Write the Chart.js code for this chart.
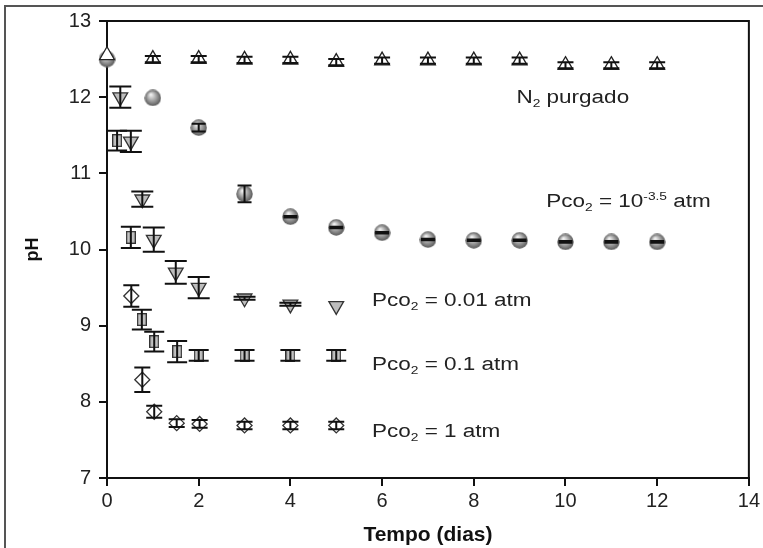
<!DOCTYPE html>
<html><head><meta charset="utf-8">
<script src="https://cdn.jsdelivr.net/npm/chart.js@4.4.1/dist/chart.umd.min.js"></script>
<style>
html,body{margin:0;padding:0;background:#fff;overflow:hidden;width:763px;height:548px;}
#wrap{position:relative;width:763px;height:548px;overflow:hidden;}
#frame{position:absolute;left:4px;top:5px;width:800px;height:600px;border:2px solid #555;pointer-events:none;}
canvas{position:absolute;left:0;top:0;}
</style></head><body>
<div id="wrap"><canvas id="c" width="763" height="548"></canvas><div id="frame"></div></div>
<script>
// ---- data ----
const xTicks = [0, 2, 4, 6, 8, 10, 12, 14];
const yTicks = [7, 8, 9, 10, 11, 12, 13];

const n2Days = [0, 1, 2, 3, 4, 5, 6, 7, 8, 9, 10, 11, 12];
const n2pH   = [12.55, 12.5, 12.5, 12.49, 12.49, 12.46, 12.48, 12.48, 12.48, 12.48, 12.42, 12.42, 12.42];
const n2Err  = [0, 0.04, 0.04, 0.04, 0.04, 0.04, 0.04, 0.04, 0.04, 0.04, 0.04, 0.04, 0.04];

const airDays = [0, 1, 2, 3, 4, 5, 6, 7, 8, 9, 10, 11, 12];
const airpH   = [12.5, 11.99, 11.6, 10.73, 10.43, 10.29, 10.22, 10.13, 10.12, 10.12, 10.1, 10.1, 10.1];
const airErr  = [0, 0, 0.05, 0.11, 0.01, 0.01, 0.01, 0.01, 0.01, 0.01, 0.01, 0.01, 0.01];

const p001Days = [0.29, 0.52, 0.77, 1.02, 1.5, 2, 3, 4, 5];
const p001pH   = [12.0, 11.42, 10.66, 10.13, 9.7, 9.5, 9.36, 9.28, 9.26];
const p001Err  = [0.14, 0.14, 0.1, 0.16, 0.15, 0.14, 0.02, 0.02, 0];

const p01Days = [0.22, 0.52, 0.76, 1.03, 1.53, 2, 3, 4, 5];
const p01pH   = [11.43, 10.16, 9.08, 8.79, 8.66, 8.61, 8.61, 8.61, 8.61];
const p01Err  = [0.13, 0.14, 0.13, 0.13, 0.14, 0.07, 0.07, 0.07, 0.07];

const p1Days = [0.53, 0.77, 1.03, 1.52, 2.02, 3, 4, 5];
const p1pH   = [9.39, 8.29, 7.87, 7.72, 7.71, 7.69, 7.69, 7.69];
const p1Err  = [0.14, 0.16, 0.08, 0.05, 0.05, 0.05, 0.05, 0.05];

// annotation labels anchored in data coordinates (left, baseline)
const labels = [
  {x: 8.93, y: 11.92, parts: [['N',''],['2','sub'],[' purgado','']]},
  {x: 9.58, y: 10.56, parts: [['Pco',''],['2','sub'],[' = 10',''],['-3.5','sup'],[' atm','']]},
  {x: 5.78, y: 9.26,  parts: [['Pco',''],['2','sub'],[' = 0.01 atm','']]},
  {x: 5.78, y: 8.42,  parts: [['Pco',''],['2','sub'],[' = 0.1 atm','']]},
  {x: 5.78, y: 7.54,  parts: [['Pco',''],['2','sub'],[' = 1 atm','']]}
];

// ---- helpers ----
const pts = (xs, ys) => xs.map((x, i) => ({x: x, y: ys[i]}));
function sphereImage(size){
  const c = document.createElement('canvas'); c.width = size; c.height = size;
  const g = c.getContext('2d'); const r = size / 2;
  const grad = g.createRadialGradient(r*0.75, r*0.6, 0.5, r, r, r);
  grad.addColorStop(0, '#f2f2f2'); grad.addColorStop(0.45, '#ababab'); grad.addColorStop(1, '#555');
  g.fillStyle = grad; g.beginPath(); g.arc(r, r, r - 0.3, 0, Math.PI*2); g.fill();
  return c;
}
function boxImage(w, h){
  const c = document.createElement('canvas'); c.width = w; c.height = h;
  const g = c.getContext('2d');
  g.fillStyle = '#c2c2c2'; g.fillRect(0.5, 0.5, w - 1, h - 1);
  g.strokeStyle = '#333'; g.lineWidth = 1.3; g.strokeRect(0.65, 0.65, w - 1.3, h - 1.3);
  return c;
}
const sphere = sphereImage(17);
const box = boxImage(10, 13);
const FONT = '"Liberation Sans", Arial, Helvetica, sans-serif';

const errorBars = {
  id: 'errorBars',
  afterDatasetsDraw(chart){
    const ctx = chart.ctx, ys = chart.scales.y;
    chart.data.datasets.forEach((ds, di) => {
      if (!ds.errors) return;
      const meta = chart.getDatasetMeta(di);
      ctx.save(); ctx.strokeStyle = '#111'; ctx.lineWidth = 2;
      meta.data.forEach((el, i) => {
        const e = ds.errors[i]; if (!e) return;
        const v = ds.data[i].y;
        const y1 = ys.getPixelForValue(v + e), y2 = ys.getPixelForValue(v - e);
        const x = el.x, w = ds.capHalf;
        ctx.beginPath();
        ctx.moveTo(x, y1); ctx.lineTo(x, y2);
        ctx.moveTo(x - w, y1); ctx.lineTo(x + w, y1);
        ctx.moveTo(x - w, y2); ctx.lineTo(x + w, y2);
        ctx.stroke();
      });
      ctx.restore();
    });
  }
};

const frameAndLabels = {
  id: 'frameAndLabels',
  afterDraw(chart){
    const ctx = chart.ctx, a = chart.chartArea, xs = chart.scales.x, ys = chart.scales.y;
    ctx.save();
    ctx.strokeStyle = '#111'; ctx.lineWidth = 2;
    ctx.beginPath();
    ctx.moveTo(a.left, a.top); ctx.lineTo(a.right, a.top); ctx.lineTo(a.right, a.bottom);
    ctx.stroke();
    ctx.fillStyle = '#222';
    ctx.textBaseline = 'alphabetic'; ctx.textAlign = 'left';
    labels.forEach(l => {
      ctx.save();
      ctx.translate(xs.getPixelForValue(l.x), ys.getPixelForValue(l.y));
      ctx.scale(1.25, 1);
      let cx = 0;
      l.parts.forEach(([t, m]) => {
        const size = m ? 11 : 18;
        ctx.font = size + 'px ' + FONT;
        const dy = m === 'sub' ? 4 : (m === 'sup' ? -7 : 0);
        ctx.fillText(t, cx, dy);
        cx += ctx.measureText(t).width;
      });
      ctx.restore();
    });
    ctx.restore();
  }
};

new Chart(document.getElementById('c'), {
  type: 'scatter',
  data: {
    datasets: [
      {label: 'N2 purgado', data: pts(n2Days, n2pH), errors: n2Err, capHalf: 8,
       pointStyle: 'triangle', pointRadius: 8.5, backgroundColor: '#fff', borderColor: '#222', borderWidth: 1.3, clip: false},
      {label: 'Pco2 = 10^-3.5 atm', data: pts(airDays, airpH), errors: airErr, capHalf: 7,
       pointStyle: sphere, pointRadius: 8.5, clip: false},
      {label: 'Pco2 = 0.01 atm', data: pts(p001Days, p001pH), errors: p001Err, capHalf: 11,
       pointStyle: 'triangle', rotation: 180, pointRadius: 8.5, backgroundColor: '#bdbdbd', borderColor: '#333', borderWidth: 1.3, clip: false},
      {label: 'Pco2 = 0.1 atm', data: pts(p01Days, p01pH), errors: p01Err, capHalf: 10,
       pointStyle: box, pointRadius: 7, clip: false},
      {label: 'Pco2 = 1 atm', data: pts(p1Days, p1pH), errors: p1Err, capHalf: 8,
       pointStyle: 'rectRot', pointRadius: 7.5, backgroundColor: '#fff', borderColor: '#333', borderWidth: 1.3, clip: false}
    ]
  },
  options: {
    responsive: false, animation: false, devicePixelRatio: 1,
    layout: {padding: {left: 0, top: 21, right: 12, bottom: 0}},
    plugins: {legend: {display: false}, tooltip: {enabled: false}},
    scales: {
      x: {
        type: 'linear', min: 0, max: 14,
        afterBuildTicks: s => { s.ticks = xTicks.map(v => ({value: v})); },
        afterFit: s => { s.height = 70; },
        ticks: {color: '#222', font: {family: FONT, size: 20}, padding: 3, maxRotation: 0, autoSkip: false},
        grid: {drawOnChartArea: false, drawTicks: true, tickLength: 8, color: '#111', lineWidth: 2},
        border: {display: true, color: '#111', width: 2},
        title: {display: true, text: 'Tempo (dias)', color: '#111', font: {family: FONT, size: 21, weight: 'bold'}, padding: {top: 0, bottom: 0}}
      },
      y: {
        type: 'linear', min: 7, max: 13,
        afterBuildTicks: s => { s.ticks = yTicks.map(v => ({value: v})); },
        afterFit: s => { s.width = 107; },
        ticks: {color: '#222', font: {family: FONT, size: 20}, padding: 8, autoSkip: false},
        grid: {drawOnChartArea: false, drawTicks: true, tickLength: 8, color: '#111', lineWidth: 2},
        border: {display: true, color: '#111', width: 2},
        title: {display: true, text: 'pH', color: '#111', font: {family: FONT, size: 18, weight: 'bold'}, padding: {top: 22, bottom: 0}}
      }
    }
  },
  plugins: [errorBars, frameAndLabels]
});
</script>
</body></html>
